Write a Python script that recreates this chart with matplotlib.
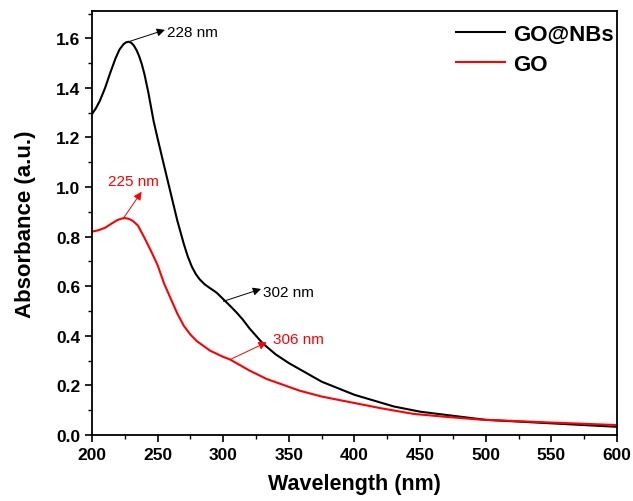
import matplotlib
matplotlib.use('Agg')
import matplotlib.pyplot as plt
from matplotlib.ticker import MultipleLocator

plt.rcParams['font.family'] = ['Liberation Sans', 'DejaVu Sans']

# 데이터
wl_gonbs = [200, 203, 206, 210, 214, 218, 221, 224, 226, 228, 230, 232, 234, 236, 238,
            240, 243, 247, 250, 255, 260, 265, 270, 273, 276, 279, 282, 286, 290,
            295, 300, 305, 310, 315, 320, 330, 340, 350, 375, 400, 430, 450, 500,
            550, 600]
abs_gonbs = [1.294, 1.318, 1.348, 1.40, 1.462, 1.52, 1.555, 1.576, 1.584, 1.586,
             1.582, 1.57, 1.552, 1.527, 1.495, 1.455, 1.38, 1.265, 1.196, 1.085,
             0.975, 0.865, 0.77, 0.72, 0.68, 0.65, 0.628, 0.607, 0.592, 0.574,
             0.548, 0.522, 0.495, 0.465, 0.43, 0.37, 0.325, 0.29, 0.215, 0.162,
             0.115, 0.094, 0.061, 0.047, 0.033]

wl_go = [200, 205, 210, 215, 219, 222, 225, 228, 231, 235, 240, 245, 250, 255, 260,
         265, 270, 275, 280, 290, 300, 305, 310, 320, 333, 358, 375, 397, 420, 445,
         470, 496, 546, 600]
abs_go = [0.82, 0.826, 0.836, 0.853, 0.866, 0.872, 0.875, 0.872, 0.864, 0.845, 0.795,
          0.742, 0.685, 0.61, 0.55, 0.49, 0.44, 0.405, 0.378, 0.34, 0.315, 0.305,
          0.29, 0.26, 0.226, 0.179, 0.155, 0.132, 0.108, 0.085, 0.073, 0.062, 0.051,
          0.04]

# 피크 표시: (라벨, 곡선 위 점, 화살표 끝, 텍스트 위치, 색, 정렬)
peaks = [
    ('228 nm', (227.7, 1.586), (255.6, 1.634), (257, 1.624), 'black', 'left'),
    ('225 nm', (223.9, 0.874), (237.8, 0.981), (231.5, 1.023), 'red', 'center'),
    ('302 nm', (300.1, 0.539), (328.8, 0.589), (330.5, 0.578), 'black', 'left'),
    ('306 nm', (305.1, 0.304), (333.1, 0.374), (337.7, 0.387), 'red', 'left'),
]

fig = plt.figure(figsize=(6.33, 5.02), dpi=100)
ax = fig.add_axes([0.1453, 0.1315, 0.8294, 0.8445])

ax.plot(wl_gonbs, abs_gonbs, color='black', lw=1.5, label='GO@NBs')
ax.plot(wl_go, abs_go, color='#ff0000', lw=1.5, label='GO')

for text, tail, head, pos, c, ha in peaks:
    ax.annotate('', xy=head, xytext=tail,
                arrowprops=dict(arrowstyle='-|>', color=c, lw=0.7, mutation_scale=12,
                                shrinkA=0, shrinkB=0))
    ax.text(pos[0], pos[1], text, color=c, fontsize=11, ha=ha, va='center')

ax.set_xlim(200, 600)
ax.set_ylim(0, 1.71)
ax.xaxis.set_major_locator(MultipleLocator(50))
ax.xaxis.set_minor_locator(MultipleLocator(25))
ax.yaxis.set_major_locator(MultipleLocator(0.2))
ax.yaxis.set_minor_locator(MultipleLocator(0.1))
ax.tick_params(which='major', direction='out', length=5, width=1.2, labelsize=12.5)
ax.tick_params(which='minor', direction='out', length=3, width=1.0)
for lab in ax.get_xticklabels() + ax.get_yticklabels():
    lab.set_fontweight('bold')
for s in ax.spines.values():
    s.set_linewidth(1.3)

ax.set_xlabel('Wavelength (nm)', fontsize=15.5, fontweight='bold', labelpad=8)
ax.set_ylabel('Absorbance (a.u.)', fontsize=16, fontweight='bold', labelpad=14)

ax.legend(loc='upper right', frameon=False, prop={'weight': 'bold', 'size': 16},
          handlelength=2.2, handletextpad=0.35, labelspacing=0.38,
          borderaxespad=0.0, bbox_to_anchor=(1.01, 0.99))

fig.savefig('out.png', dpi=100)
